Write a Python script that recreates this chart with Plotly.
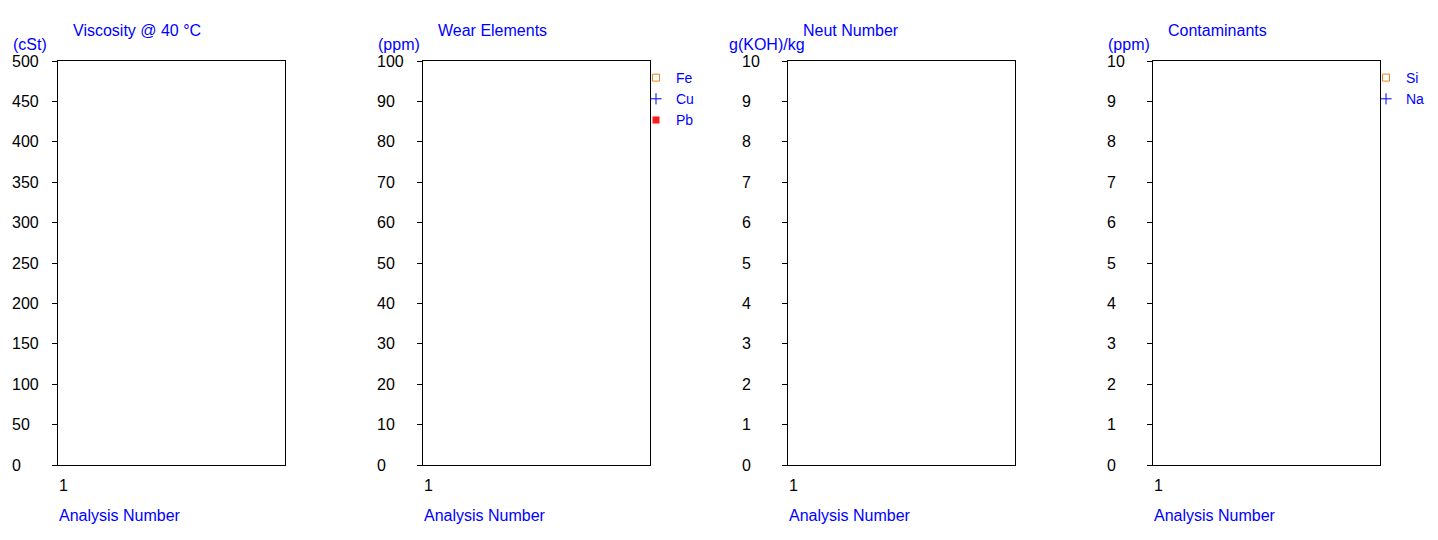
import plotly.graph_objects as go

# ---------------- data ----------------
analysis_numbers = [1]
viscosity_40c = [None]
fe_ppm = [None]
cu_ppm = [None]
pb_ppm = [None]
neut_number = [None]
si_ppm = [None]
na_ppm = [None]

panel_titles = ["Viscosity @ 40 °C", "Wear Elements", "Neut Number", "Contaminants"]
panel_units = ["(cSt)", "(ppm)", "g(KOH)/kg", "(ppm)"]
y_max = [500, 100, 10, 10]
y_step = [50, 10, 1, 1]
x_title = "Analysis Number"
x_tick_vals = [1]

# ---------------- layout helpers ----------------
W, H = 1438, 540
FONT = "Liberation Sans, Arial, sans-serif"
BLUE = "#0000ff"
px = lambda x: x / W
py = lambda y: 1 - y / H

left0, right0, step = 58, 285, 365
top, bottom = 61, 465
unit_x = [12, 377, 728, 1107]

fig = go.Figure()

ORANGE = "#f08020"
series = [
    [("Viscosity", viscosity_40c, None)],
    [("Fe", fe_ppm, dict(symbol="square-open", size=7, color=ORANGE, line=dict(width=1, color=ORANGE))),
     ("Cu", cu_ppm, dict(symbol="cross-thin", size=8, color=BLUE, line=dict(width=1, color=BLUE))),
     ("Pb", pb_ppm, dict(symbol="square", size=7, color="#ff1a1a"))],
    [("Neut Number", neut_number, None)],
    [("Si", si_ppm, dict(symbol="square-open", size=7, color=ORANGE, line=dict(width=1, color=ORANGE))),
     ("Na", na_ppm, dict(symbol="cross-thin", size=8, color=BLUE, line=dict(width=1, color=BLUE)))],
]
legend_of = {1: "legend", 3: "legend2"}

for i in range(4):
    xa = "x" if i == 0 else f"x{i+1}"
    ya = "y" if i == 0 else f"y{i+1}"
    for name, vals, mk in series[i]:
        fig.add_trace(go.Scatter(
            x=analysis_numbers, y=vals, name=name, mode="markers",
            marker=mk if mk else dict(color=BLUE),
            xaxis=xa, yaxis=ya,
            showlegend=mk is not None,
            legend=legend_of.get(i, "legend"),
        ))
    # empty trace for the label axis
    fig.add_trace(go.Scatter(x=[], y=[], xaxis=xa, yaxis=f"y{i+5}", showlegend=False))

    l = left0 + step * i
    r = right0 + step * i
    dom_x = [px(l), px(r)]
    dom_y = [py(bottom), py(top)]
    xkey = "xaxis" if i == 0 else f"xaxis{i+1}"
    ykey = "yaxis" if i == 0 else f"yaxis{i+1}"
    fig.layout[xkey] = dict(
        domain=dom_x, anchor=ya, range=[0.9, 5], tickvals=x_tick_vals,
        ticktext=[str(v) for v in x_tick_vals], automargin=False,
        showgrid=False, zeroline=False, showline=True, mirror=True,
        linecolor="black", linewidth=1, ticks="outside", ticklen=6,
        tickcolor="rgba(0,0,0,0)", tickfont=dict(family=FONT, size=16, color="black"),
    )
    tv = [y_step[i] * k for k in range(int(y_max[i] / y_step[i]) + 1)]
    fig.layout[ykey] = dict(
        domain=dom_y, anchor=xa, range=[0, y_max[i]], tickvals=tv, automargin=False,
        showticklabels=False, showgrid=False, zeroline=False, showline=True,
        mirror=True, linecolor="black", linewidth=1, ticks="outside", ticklen=5,
        tickcolor="black",
    )
    fig.layout[f"yaxis{i+5}"] = dict(
        overlaying=ya, anchor="free", position=px(unit_x[0] - 4 + step * i),
        range=[0, y_max[i]], tickvals=tv, ticktext=[str(v) for v in tv],
        ticklabelposition="inside", ticklabeloverflow="allow", ticks="",
        showgrid=False, zeroline=False, showline=False, side="left", automargin=False,
        tickfont=dict(family=FONT, size=16, color="black"),
    )
    # panel title
    fig.add_annotation(text=panel_titles[i], xref="paper", yref="paper",
                       x=px(l + 13), y=py(30), xanchor="left", yanchor="middle",
                       showarrow=False, font=dict(family=FONT, size=16, color=BLUE))
    # unit label
    fig.add_annotation(text=panel_units[i], xref="paper", yref="paper",
                       x=px(unit_x[i] - 1), y=py(44), xanchor="left", yanchor="middle",
                       showarrow=False, font=dict(family=FONT, size=16, color=BLUE))
    # x title
    fig.add_annotation(text=x_title, xref="paper", yref="paper",
                       x=px(l - 1), y=py(515), xanchor="left", yanchor="middle",
                       showarrow=False, font=dict(family=FONT, size=16, color=BLUE))

leg_common = dict(font=dict(family=FONT, size=14, color=BLUE), bgcolor="rgba(0,0,0,0)",
                  borderwidth=0, xanchor="left", yanchor="top", itemclick=False,
                  tracegroupgap=0)
fig.update_layout(
    width=W, height=H, margin=dict(l=0, r=0, t=0, b=0, autoexpand=False),
    paper_bgcolor="white", plot_bgcolor="white",
    legend=dict(x=px(636), y=py(62), **leg_common),
    legend2=dict(x=px(1366), y=py(62), **leg_common),
    font=dict(family=FONT, size=16),
)

fig.write_html("out.html", config={"displayModeBar": False},
               post_script="document.body.style.margin='0';")
